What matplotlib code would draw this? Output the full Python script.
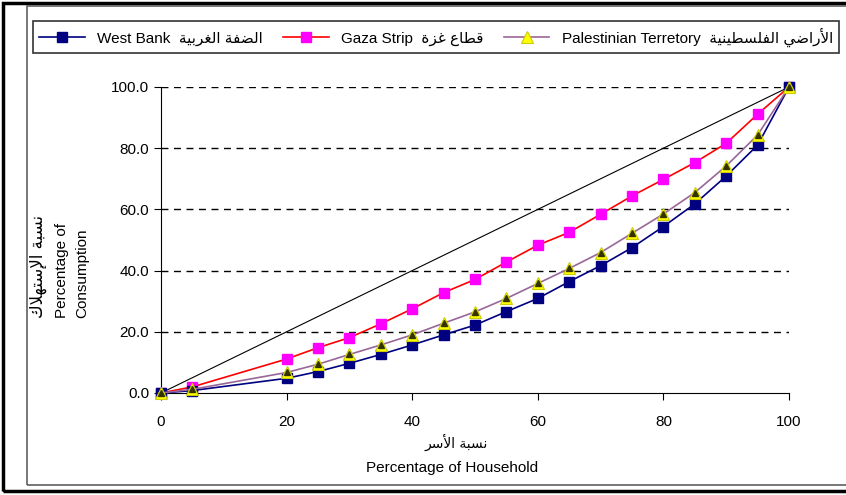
import matplotlib
matplotlib.use("Agg")
import matplotlib.pyplot as plt
from matplotlib.patches import Rectangle

plt.rcParams['font.family'] = ['Liberation Sans', 'DejaVu Sans']

# data
pct_household = [0, 5, 20, 25, 30, 35, 40, 45, 50, 55, 60, 65, 70, 75, 80, 85, 90, 95, 100]
west_bank = [0, 0.8, 4.8, 7.0, 9.7, 12.6, 15.7, 19.0, 22.2, 26.6, 30.9, 36.4, 41.6, 47.5, 54.4, 61.8, 70.9, 81.0, 100]
gaza_strip = [0, 2.0, 11.1, 14.8, 18.1, 22.6, 27.5, 32.8, 37.1, 42.8, 48.3, 52.5, 58.4, 64.4, 69.8, 75.3, 81.6, 91.1, 100]
palestine = [0, 1.2, 6.7, 9.4, 12.6, 15.7, 19.0, 22.8, 26.5, 30.9, 35.8, 40.7, 45.9, 52.2, 58.5, 65.5, 74.2, 84.3, 100]
x_ticks = [0, 20, 40, 60, 80, 100]
y_ticks = [0, 20, 40, 60, 80, 100]

# tiny arabic shaper (matplotlib has no bidi / joining)
BASE = {'ا': 0xFE8D, 'أ': 0xFE83, 'إ': 0xFE87, 'ب': 0xFE8F, 'ة': 0xFE93, 'ت': 0xFE95,
        'ر': 0xFEAD, 'ز': 0xFEAF, 'س': 0xFEB1, 'ض': 0xFEBD, 'ط': 0xFEC1, 'ع': 0xFEC9,
        'غ': 0xFECD, 'ف': 0xFED1, 'ق': 0xFED5, 'ك': 0xFED9, 'ل': 0xFEDD, 'ن': 0xFEE5,
        'ه': 0xFEE9, 'ي': 0xFEF1}
DUAL = set('بتسضطعغفقكلنهي')
LAMALEF = {'ا': 0xFEFB, 'أ': 0xFEF7, 'إ': 0xFEF9}


def shape(txt):
    out = []
    prev_joins = False
    i = 0
    while i < len(txt):
        c = txt[i]
        if c not in BASE:
            out.append(c)
            prev_joins = False
            i += 1
            continue
        if c == 'ل' and i + 1 < len(txt) and txt[i + 1] in LAMALEF:
            out.append(chr(LAMALEF[txt[i + 1]] + (1 if prev_joins else 0)))
            prev_joins = False
            i += 2
            continue
        nxt = txt[i + 1] if i + 1 < len(txt) else ''
        joins_next = c in DUAL and nxt in BASE
        code = BASE[c]
        if prev_joins and joins_next:
            code += 3
        elif prev_joins:
            code += 1
        elif joins_next:
            code += 2
        out.append(chr(code))
        prev_joins = c in DUAL
        i += 1
    return ''.join(reversed(out))


W, H = 846, 495
fig = plt.figure(figsize=(W / 100, H / 100), dpi=100)
ax = fig.add_axes([161 / W, 1 - 393 / H, (789 - 161) / W, (393 - 87) / H])

ax.plot([0, 100], [0, 100], color='black', lw=0.8)
ax.plot(pct_household, west_bank, color='#000080', lw=1.2, marker='s', ms=7,
        mfc='#000080', mec='#000080', clip_on=False, zorder=4,
        label='West Bank  ' + shape('الضفة الغربية'))
ax.plot(pct_household, gaza_strip, color='#FF0000', lw=1.2, marker='s', ms=7,
        mfc='#FF00FF', mec='#FF00FF', clip_on=False, zorder=3,
        label='Gaza Strip  ' + shape('قطاع غزة'))
ax.plot(pct_household, palestine, color='#996699', lw=1.2, marker='^', ms=8,
        mfc='#FFFF00', mec='#CCCC00', mew=0.8, clip_on=False, zorder=5,
        label='Palestinian Terretory  ' + shape('الأراضي الفلسطينية'))
# dark core of the triangle markers
ax.plot(pct_household, palestine, ls='none', marker='^', ms=4, mfc='#333300',
        mec='#333300', clip_on=False, zorder=6)

ax.set_xlim(0, 100)
ax.set_ylim(0, 100)
ax.set_xticks(x_ticks)
ax.set_yticks(y_ticks)
ax.set_yticklabels([f'{v:.1f}' for v in y_ticks])
ax.tick_params(direction='out', length=5, labelsize=11, colors='black')
ax.tick_params(axis='x', pad=11)
for y in y_ticks[1:]:
    ax.axhline(y, color='black', lw=1, ls=(0, (5, 4)), zorder=1)
ax.spines['top'].set_visible(False)
ax.spines['right'].set_visible(False)

# axis titles
fig.text(38 / W, 1 - 318 / H, shape('نسبة الإستهلاك'), rotation=90, ha='center', va='bottom',
         fontsize=12, family='DejaVu Sans')
fig.text(62 / W, 1 - 318 / H, 'Percentage of', rotation=90, ha='center', va='bottom', fontsize=11)
fig.text(82 / W, 1 - 318 / H, 'Consumption', rotation=90, ha='center', va='bottom', fontsize=11)
fig.text(456 / W, 1 - 442 / H, shape('نسبة الأسر'), ha='center', va='center',
         fontsize=10, family='DejaVu Sans')
fig.text(452 / W, 1 - 468 / H, 'Percentage of Household', ha='center', va='center', fontsize=11)

fig.legend(loc='lower left', bbox_to_anchor=(33 / W, 1 - 53 / H, (839 - 33) / W, 40 / H),
           mode='expand', ncol=3, fontsize=11, frameon=True, fancybox=False,
           edgecolor='black', handlelength=3, borderaxespad=0, columnspacing=1)
fig.legends[0].get_frame().set_linewidth(1.2)

# chart frames
fig.patches.append(Rectangle((3 / W, 1 - 491 / H), 1.0, 488 / H, transform=fig.transFigure,
                             fill=False, ec='black', lw=2.5))
fig.patches.append(Rectangle((27 / W, 1 - 485 / H), 1.0, 479 / H, transform=fig.transFigure,
                             fill=False, ec='#606060', lw=1.2))

fig.savefig('out.png', dpi=100)
